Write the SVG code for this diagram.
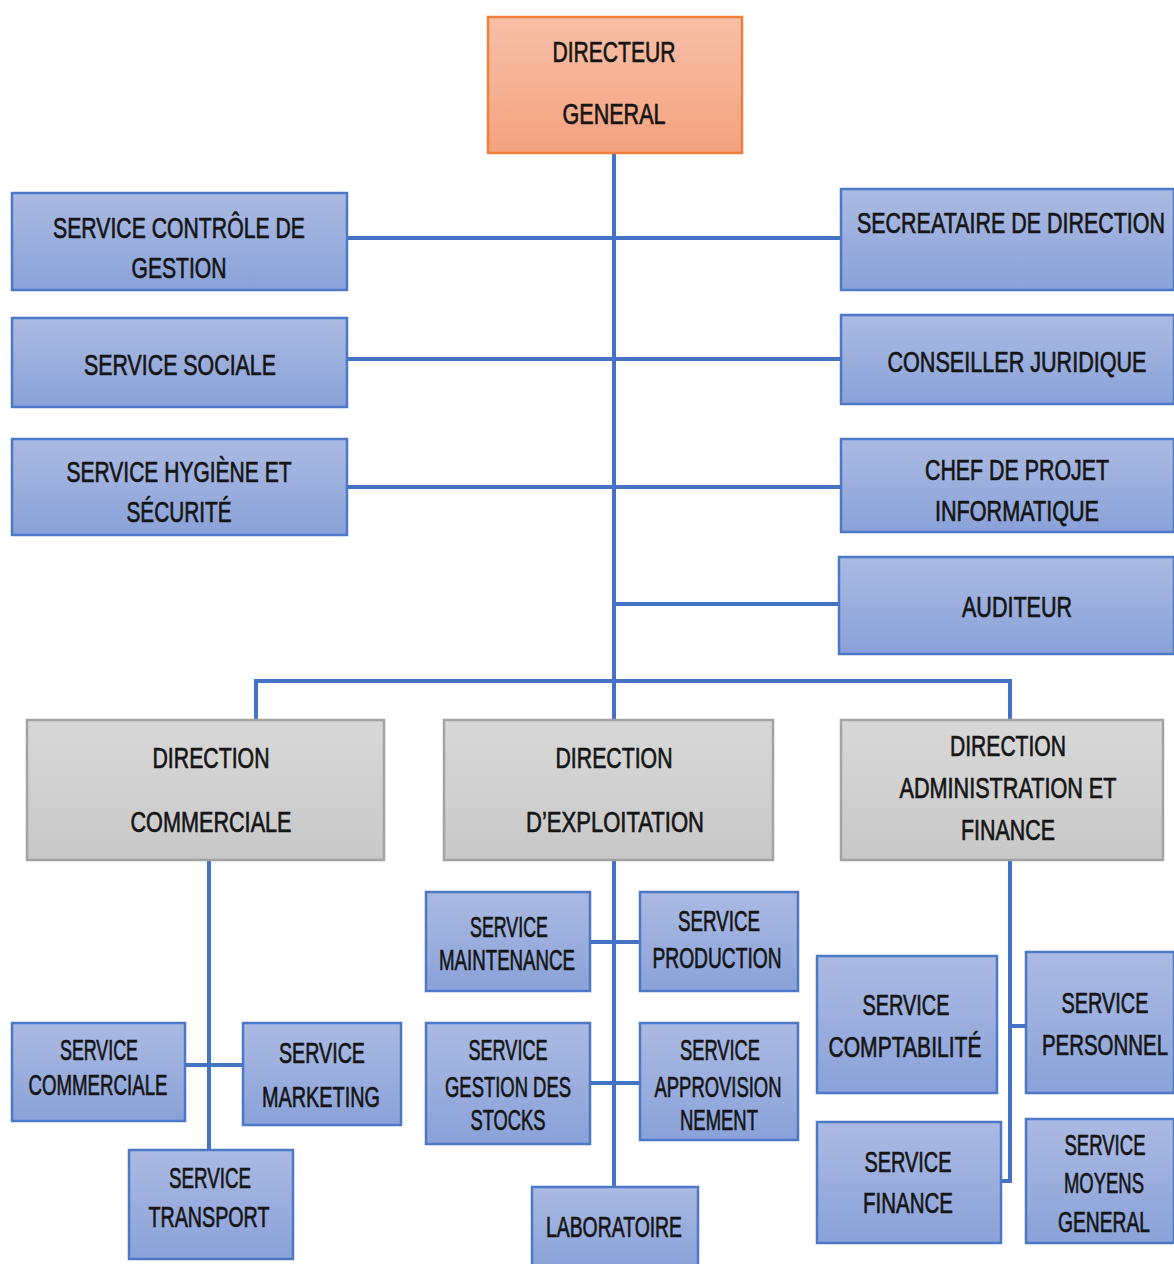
<svg xmlns="http://www.w3.org/2000/svg" width="1174" height="1264" viewBox="0 0 1174 1264">
<defs>
<linearGradient id="gBlue" x1="0" y1="0" x2="0" y2="1">
<stop offset="0" stop-color="#abbae2"/><stop offset="1" stop-color="#8aa2d9"/>
</linearGradient>
<linearGradient id="gGray" x1="0" y1="0" x2="0" y2="1">
<stop offset="0" stop-color="#d8d8d8"/><stop offset="1" stop-color="#c8c8c8"/>
</linearGradient>
<linearGradient id="gOrange" x1="0" y1="0" x2="0" y2="1">
<stop offset="0" stop-color="#f7c0a8"/><stop offset="1" stop-color="#f4a27f"/>
</linearGradient>
<style>
.b{fill:url(#gBlue);stroke:#4d78c6;stroke-width:2.5}
.g{fill:url(#gGray);stroke:#a3a3a3;stroke-width:2.5}
.o{fill:url(#gOrange);stroke:#ef7f3a;stroke-width:2.5}
text{font-family:"Liberation Sans",Arial,sans-serif;font-size:30px;fill:#151515;stroke:#151515;stroke-width:0.7;text-anchor:middle}
.c path{fill:none;stroke:#4472c4;stroke-width:4}
</style>
</defs>
<rect width="1174" height="1264" fill="#ffffff"/>
<g class="c" id="connectors">
<path d="M614,153 V720"/>
<path d="M347,238 H841"/>
<path d="M347,359 H841"/>
<path d="M347,487 H841"/>
<path d="M614,604 H839"/>
<path d="M256,720 V681 H1010 V720"/>
<path d="M209,860 V1150"/>
<path d="M185,1065 H243"/>
<path d="M614,860 V1187"/>
<path d="M590,942 H640"/>
<path d="M590,1083 H640"/>
<path d="M1010,860 V1181 H1001"/>
<path d="M1010,1026 H1026"/>
</g>
<g id="n-dg"><rect class="o" x="488" y="17" width="254" height="136"/>
<text x="614" y="62" textLength="123" lengthAdjust="spacingAndGlyphs">DIRECTEUR</text>
<text x="614" y="124" textLength="103" lengthAdjust="spacingAndGlyphs">GENERAL</text></g>
<g id="n-controle"><rect class="b" x="12" y="193" width="335" height="97"/>
<text x="179" y="238" textLength="252" lengthAdjust="spacingAndGlyphs">SERVICE CONTRÔLE DE</text>
<text x="179" y="278" textLength="95" lengthAdjust="spacingAndGlyphs">GESTION</text></g>
<g id="n-sociale"><rect class="b" x="12" y="318" width="335" height="89"/>
<text x="180" y="375" textLength="192" lengthAdjust="spacingAndGlyphs">SERVICE SOCIALE</text></g>
<g id="n-hygiene"><rect class="b" x="12" y="439" width="335" height="96"/>
<text x="179" y="482" textLength="225" lengthAdjust="spacingAndGlyphs">SERVICE HYGIÈNE ET</text>
<text x="179" y="522" textLength="105" lengthAdjust="spacingAndGlyphs">SÉCURITÉ</text></g>
<g id="n-secretaire"><rect class="b" x="841" y="189" width="333" height="101"/>
<text x="1011" y="233" textLength="308" lengthAdjust="spacingAndGlyphs">SECREATAIRE DE DIRECTION</text></g>
<g id="n-conseiller"><rect class="b" x="841" y="315" width="333" height="89"/>
<text x="1017" y="372" textLength="259" lengthAdjust="spacingAndGlyphs">CONSEILLER JURIDIQUE</text></g>
<g id="n-chef"><rect class="b" x="841" y="439" width="333" height="93"/>
<text x="1017" y="480" textLength="184" lengthAdjust="spacingAndGlyphs">CHEF DE PROJET</text>
<text x="1017" y="521" textLength="164" lengthAdjust="spacingAndGlyphs">INFORMATIQUE</text></g>
<g id="n-auditeur"><rect class="b" x="839" y="557" width="335" height="97"/>
<text x="1017" y="617" textLength="110" lengthAdjust="spacingAndGlyphs">AUDITEUR</text></g>
<g id="n-dcom"><rect class="g" x="27" y="720" width="357" height="140"/>
<text x="211" y="768" textLength="117" lengthAdjust="spacingAndGlyphs">DIRECTION</text>
<text x="211" y="832" textLength="161" lengthAdjust="spacingAndGlyphs">COMMERCIALE</text></g>
<g id="n-dexp"><rect class="g" x="444" y="720" width="329" height="140"/>
<text x="614" y="768" textLength="117" lengthAdjust="spacingAndGlyphs">DIRECTION</text>
<text x="615" y="832" textLength="178" lengthAdjust="spacingAndGlyphs">D’EXPLOITATION</text></g>
<g id="n-dadm"><rect class="g" x="841" y="720" width="322" height="140"/>
<text x="1008" y="756" textLength="116" lengthAdjust="spacingAndGlyphs">DIRECTION</text>
<text x="1008" y="798" textLength="217" lengthAdjust="spacingAndGlyphs">ADMINISTRATION ET</text>
<text x="1008" y="840" textLength="94" lengthAdjust="spacingAndGlyphs">FINANCE</text></g>
<g id="n-scom"><rect class="b" x="12" y="1023" width="173" height="98"/>
<text x="99" y="1060" textLength="78" lengthAdjust="spacingAndGlyphs">SERVICE</text>
<text x="98" y="1095" textLength="139" lengthAdjust="spacingAndGlyphs">COMMERCIALE</text></g>
<g id="n-marketing"><rect class="b" x="243" y="1023" width="158" height="102"/>
<text x="322" y="1063" textLength="86" lengthAdjust="spacingAndGlyphs">SERVICE</text>
<text x="321" y="1107" textLength="118" lengthAdjust="spacingAndGlyphs">MARKETING</text></g>
<g id="n-transport"><rect class="b" x="129" y="1150" width="164" height="109"/>
<text x="210" y="1188" textLength="82" lengthAdjust="spacingAndGlyphs">SERVICE</text>
<text x="209" y="1227" textLength="121" lengthAdjust="spacingAndGlyphs">TRANSPORT</text></g>
<g id="n-maintenance"><rect class="b" x="426" y="892" width="164" height="99"/>
<text x="509" y="937" textLength="78" lengthAdjust="spacingAndGlyphs">SERVICE</text>
<text x="507" y="970" textLength="136" lengthAdjust="spacingAndGlyphs">MAINTENANCE</text></g>
<g id="n-production"><rect class="b" x="640" y="892" width="158" height="99"/>
<text x="719" y="931" textLength="82" lengthAdjust="spacingAndGlyphs">SERVICE</text>
<text x="717" y="968" textLength="129" lengthAdjust="spacingAndGlyphs">PRODUCTION</text></g>
<g id="n-stocks"><rect class="b" x="426" y="1023" width="164" height="121"/>
<text x="508" y="1060" textLength="79" lengthAdjust="spacingAndGlyphs">SERVICE</text>
<text x="508" y="1097" textLength="126" lengthAdjust="spacingAndGlyphs">GESTION DES</text>
<text x="508" y="1130" textLength="75" lengthAdjust="spacingAndGlyphs">STOCKS</text></g>
<g id="n-appro"><rect class="b" x="640" y="1023" width="158" height="117"/>
<text x="720" y="1060" textLength="80" lengthAdjust="spacingAndGlyphs">SERVICE</text>
<text x="718" y="1097" textLength="127" lengthAdjust="spacingAndGlyphs">APPROVISION</text>
<text x="719" y="1130" textLength="78" lengthAdjust="spacingAndGlyphs">NEMENT</text></g>
<g id="n-labo"><rect class="b" x="532" y="1187" width="166" height="80"/>
<text x="614" y="1237" textLength="136" lengthAdjust="spacingAndGlyphs">LABORATOIRE</text></g>
<g id="n-compta"><rect class="b" x="817" y="956" width="180" height="137"/>
<text x="906" y="1015" textLength="87" lengthAdjust="spacingAndGlyphs">SERVICE</text>
<text x="905" y="1057" textLength="153" lengthAdjust="spacingAndGlyphs">COMPTABILITÉ</text></g>
<g id="n-personnel"><rect class="b" x="1026" y="952" width="148" height="141"/>
<text x="1105" y="1013" textLength="87" lengthAdjust="spacingAndGlyphs">SERVICE</text>
<text x="1105" y="1055" textLength="126" lengthAdjust="spacingAndGlyphs">PERSONNEL</text></g>
<g id="n-finance"><rect class="b" x="817" y="1122" width="184" height="121"/>
<text x="908" y="1172" textLength="87" lengthAdjust="spacingAndGlyphs">SERVICE</text>
<text x="908" y="1213" textLength="90" lengthAdjust="spacingAndGlyphs">FINANCE</text></g>
<g id="n-moyens"><rect class="b" x="1026" y="1119" width="148" height="124"/>
<text x="1105" y="1155" textLength="81" lengthAdjust="spacingAndGlyphs">SERVICE</text>
<text x="1104" y="1193" textLength="80" lengthAdjust="spacingAndGlyphs">MOYENS</text>
<text x="1104" y="1232" textLength="92" lengthAdjust="spacingAndGlyphs">GENERAL</text></g>
</svg>
